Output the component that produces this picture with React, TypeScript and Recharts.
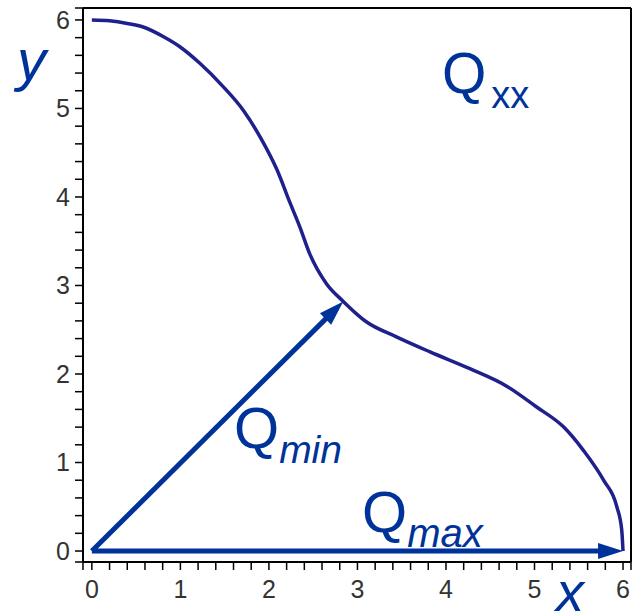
import React from "react";
import { ComposedChart, Line, XAxis, YAxis, ReferenceLine } from "recharts";

// Qxx curve
const curveX = [0, 0.2, 0.4, 0.58, 0.81, 0.99, 1.22, 1.48, 1.71, 1.9, 2.09, 2.24, 2.35, 2.46, 2.65, 2.84, 3.1, 3.44, 3.82, 4.27, 4.69, 5.02, 5.33, 5.55, 5.78, 5.93, 5.985, 6.0];
const curveY = [6.0, 5.99, 5.96, 5.92, 5.81, 5.7, 5.51, 5.25, 4.98, 4.68, 4.31, 3.93, 3.66, 3.36, 3.02, 2.82, 2.59, 2.42, 2.25, 2.06, 1.86, 1.63, 1.4, 1.14, 0.8, 0.5, 0.24, 0.0];

// arrows from the origin
const qMinEnd = { x: 2.84, y: 2.82 };
const qMaxEnd = { x: 6.0, y: 0 };

const xDomain = [-0.1, 6.09];
const yDomain = [-0.124, 6.135];

const xTicks = [-0.1, 0, 0.2, 0.4, 0.6, 0.8, 1, 1.2, 1.4, 1.6, 1.8, 2, 2.2, 2.4, 2.6, 2.8, 3, 3.2, 3.4, 3.6, 3.8, 4, 4.2, 4.4, 4.6, 4.8, 5, 5.2, 5.4, 5.6, 5.8, 6, 6.09];
const yTicks = [-0.124, 0, 0.2, 0.4, 0.6, 0.8, 1, 1.2, 1.4, 1.6, 1.8, 2, 2.2, 2.4, 2.6, 2.8, 3, 3.2, 3.4, 3.6, 3.8, 4, 4.2, 4.4, 4.6, 4.8, 5, 5.2, 5.4, 5.6, 5.8, 6, 6.135];

const curve = curveX.map((x, i) => ({ x, y: curveY[i] }));

const ARROW = "#003399";
const CURVE = "#20208c";
const FONT = "'Liberation Sans', Arial, sans-serif";

const intLabel = (v: number) => (Number.isInteger(v) ? String(v) : "");

function Arrow(props: any) {
  const { x1, y1, x2, y2 } = props;
  const dx = x2 - x1;
  const dy = y2 - y1;
  const len = Math.sqrt(dx * dx + dy * dy) || 1;
  const ux = dx / len;
  const uy = dy / len;
  const head = 25;
  const half = 8;
  const bx = x2 - ux * head;
  const by = y2 - uy * head;
  const pts = `${x2},${y2} ${bx - uy * half},${by + ux * half} ${bx + uy * half},${by - ux * half}`;
  return (
    <g>
      <line x1={x1} y1={y1} x2={bx + ux * 2} y2={by + uy * 2} stroke={ARROW} strokeWidth={5} />
      <polygon points={pts} fill={ARROW} />
    </g>
  );
}

export default function App() {
  const tickStyle = { fill: "#333", fontSize: 25, fontFamily: FONT };
  const lineStyle = { stroke: "#000", strokeWidth: 1.5 };
  return (
    <div style={{ position: "absolute", left: 0, top: 0, width: 636, height: 613, background: "#fff" }}>
      <ComposedChart width={636} height={613} margin={{ top: 8, right: 5, bottom: 0, left: 0 }}>
        <XAxis
          type="number"
          dataKey="x"
          domain={xDomain}
          allowDataOverflow
          ticks={xTicks}
          interval={0}
          tickFormatter={intLabel}
          tick={tickStyle}
          tickSize={8}
          tickMargin={10}
          height={51}
          axisLine={{ stroke: "#000", strokeWidth: 2 }}
          tickLine={lineStyle}
        />
        <YAxis
          type="number"
          dataKey="y"
          domain={yDomain}
          allowDataOverflow
          ticks={yTicks}
          interval={0}
          tickFormatter={intLabel}
          tick={tickStyle}
          tickSize={8}
          tickMargin={5}
          width={83}
          axisLine={{ stroke: "#000", strokeWidth: 2 }}
          tickLine={lineStyle}
        />
        <ReferenceLine y={yDomain[1]} stroke="#000" strokeWidth={2} />
        <ReferenceLine x={xDomain[1]} stroke="#000" strokeWidth={2} />
        <Line
          data={curve}
          dataKey="y"
          type="monotone"
          stroke={CURVE}
          strokeWidth={3.5}
          dot={false}
          activeDot={false}
          isAnimationActive={false}
        />
        <ReferenceLine segment={[{ x: 0, y: 0 }, qMinEnd]} shape={Arrow} />
        <ReferenceLine segment={[{ x: 0, y: 0 }, qMaxEnd]} shape={Arrow} />
      </ComposedChart>
      <svg width={636} height={613} style={{ position: "absolute", left: 0, top: 0, pointerEvents: "none" }}>
        <g fill={ARROW} fontFamily={FONT}>
          <text x={17} y={80} fontSize={58} fontStyle="italic">y</text>
          <text x={556} y={611} fontSize={56} fontStyle="italic">x</text>
          <text x={442} y={93} fontSize={57}>
            Q<tspan fontSize={38} dx={5} dy={15}>xx</tspan>
          </text>
          <text x={234} y={448} fontSize={58}>
            Q<tspan fontSize={39} fontStyle="italic" dy={15}>min</tspan>
          </text>
          <text x={362} y={532} fontSize={58}>
            Q<tspan fontSize={40} fontStyle="italic" dy={15}>max</tspan>
          </text>
        </g>
      </svg>
    </div>
  );
}
